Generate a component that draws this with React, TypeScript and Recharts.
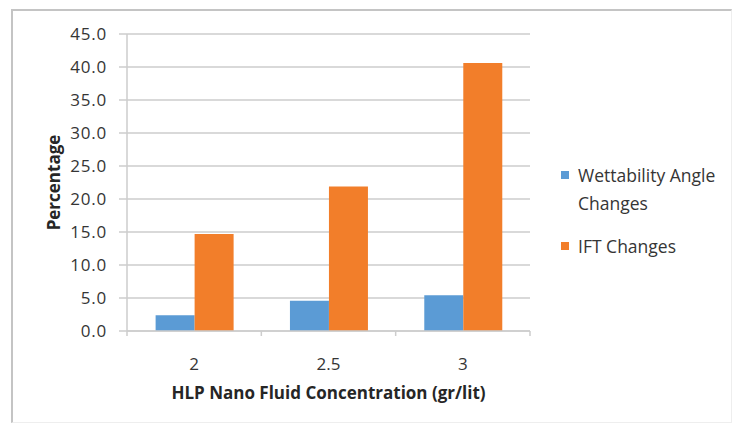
import React from "react";
import { BarChart, Bar, XAxis, YAxis, CartesianGrid, Legend } from "recharts";

const categories = ["2", "2.5", "3"];
const wettabilityValues = [2.4, 4.6, 5.4];
const iftValues = [14.7, 21.9, 40.6];
const yTicks = [0, 5, 10, 15, 20, 25, 30, 35, 40, 45];
const seriesNames = ["Wettability Angle Changes", "IFT Changes"];

const data = categories.map((c, i) => ({
  name: c,
  wettability: wettabilityValues[i],
  ift: iftValues[i],
}));

const FONT = "'Open Sans', 'DejaVu Sans', sans-serif";
const TEXT = "#353535";
const GRID = "#cdcdcd";
const PLOT_LEFT = 127;
const PLOT_RIGHT = 530;
const STEP = (PLOT_RIGHT - PLOT_LEFT) / categories.length;

const XTick = (props: any) => {
  const { x, y, payload, index } = props;
  const isLast = index === categories.length - 1;
  return (
    <g>
      <line x1={x - STEP / 2} x2={x - STEP / 2} y1={y - 8} y2={y - 3} stroke={GRID} strokeWidth={1.5} />
      {isLast && (
        <line x1={x + STEP / 2} x2={x + STEP / 2} y1={y - 8} y2={y - 3} stroke={GRID} strokeWidth={1.5} />
      )}
      <text x={x} y={y + 31} textAnchor="middle" fill={TEXT} fontSize={17} fontFamily={FONT}>
        {payload.value}
      </text>
    </g>
  );
};

const LegendContent = (props: any) => {
  const payload = [...(props.payload || [])].sort(
    (a: any, b: any) => seriesNames.indexOf(a.value) - seriesNames.indexOf(b.value)
  );
  return (
    <div style={{ fontFamily: FONT, fontSize: 17.5, color: TEXT }}>
      {payload.map((p: any, i: number) => (
        <div key={i} style={{ display: "flex", alignItems: "flex-start", marginBottom: 15, width: 172 }}>
          <span
            style={{
              display: "inline-block",
              width: 8,
              height: 8,
              background: p.color,
              marginTop: 10,
              marginRight: 9,
              flexShrink: 0,
            }}
          />
          <span style={{ lineHeight: "28px" }}>{p.value}</span>
        </div>
      ))}
    </div>
  );
};

export default function App() {
  return (
    <div style={{ position: "absolute", left: 0, top: 0, width: 737, height: 432, background: "#fff" }}>
      <div
        style={{
          position: "absolute",
          left: 11,
          top: 9,
          width: 721,
          height: 414,
          borderLeft: "2px solid #c4c4c4",
          borderTop: "2px solid #c4c4c4",
          borderRight: "1px solid #eeeeee",
          borderBottom: "1px solid #eeeeee",
          boxSizing: "border-box",
        }}
      />
      <div style={{ position: "absolute", left: 0, top: 0 }}>
        <BarChart
          width={737}
          height={432}
          data={data}
          margin={{ top: 34, right: 737 - PLOT_RIGHT, left: 57, bottom: 41 }}
          barCategoryGap="21.3%"
          barGap={0}
        >
          <CartesianGrid vertical={false} stroke={GRID} strokeWidth={1.5} />
          <XAxis
            dataKey="name"
            height={60}
            axisLine={{ stroke: GRID, strokeWidth: 1.5 }}
            tickLine={false}
            tick={<XTick />}
            interval={0}
            label={{
              value: "HLP Nano Fluid Concentration (gr/lit)",
              position: "insideBottom",
              offset: 0,
              dy: 8,
              style: { fontFamily: FONT, fontSize: 17, fontWeight: 700, fill: "#262626" },
            }}
          />
          <YAxis
            width={70}
            domain={[0, 45]}
            ticks={yTicks}
            interval={0}
            tickFormatter={(v: number) => v.toFixed(1)}
            axisLine={{ stroke: GRID, strokeWidth: 1.5 }}
            tickLine={{ stroke: GRID, strokeWidth: 1.5 }}
            tickSize={8}
            tickMargin={12}
            tick={{ fill: TEXT, fontSize: 17, fontFamily: FONT, letterSpacing: 0.8 }}
            label={{
              value: "Percentage",
              angle: -90,
              position: "insideLeft",
              offset: 0,
              dx: -3,
              style: { textAnchor: "middle", fontFamily: FONT, fontSize: 17, fontWeight: 700, fill: "#262626" },
            }}
          />
          <Legend
            layout="horizontal"
            align="center"
            verticalAlign="middle"
            content={<LegendContent />}
            wrapperStyle={{ left: 561, top: 161, width: 175 }}
          />
          <Bar dataKey="wettability" name={seriesNames[0]} fill="#5B9BD5" isAnimationActive={false} />
          <Bar dataKey="ift" name={seriesNames[1]} fill="#F27E2A" isAnimationActive={false} />
        </BarChart>
      </div>
    </div>
  );
}
